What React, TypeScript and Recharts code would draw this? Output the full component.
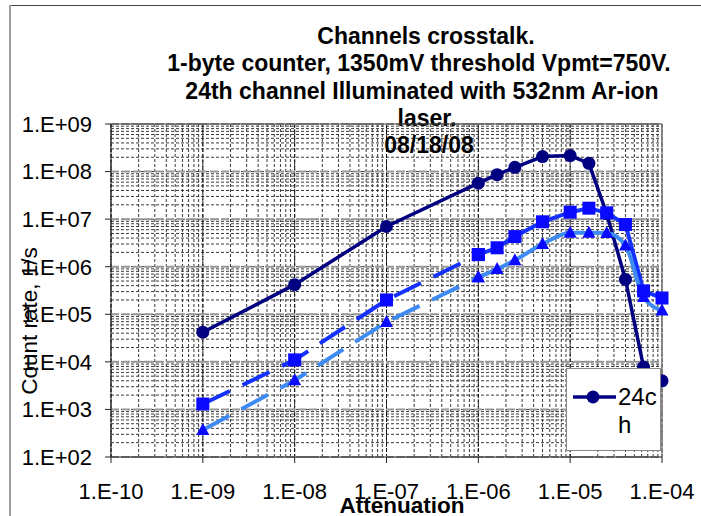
import { LineChart, Line, XAxis, YAxis, CartesianGrid, Legend, ReferenceLine, Customized } from 'recharts'

// attenuation steps of the ND filter stack
const attenuation = [1e-9, 1e-8, 1e-7, 1e-6, 1.6e-6, 2.5e-6, 5e-6, 1e-5, 1.6e-5, 2.5e-5, 4e-5, 6.3e-5, 1e-4]

// count rates, 1/s
const ch24 = [4.2e4, 4.2e5, 7e6, 5.7e7, 8.6e7, 1.23e8, 2.07e8, 2.17e8, 1.49e8, 1.3e7, 5.4e5, 7.8e3, 4e3]
const chSquares = [1.3e3, 1.1e4, 2e5, 1.8e6, 2.5e6, 4.3e6, 8.8e6, 1.4e7, 1.7e7, 1.36e7, 7.7e6, 3.1e5, 2.2e5]
const chTriangles = [3.7e2, 4.1e3, 6.9e4, 6e5, 8.9e5, 1.37e6, 3e6, 5.2e6, 5.2e6, 5.1e6, 2.8e6, 2.3e5, 1.2e5]

const xTicks = [1e-10, 1e-9, 1e-8, 1e-7, 1e-6, 1e-5, 1e-4]
const yTicks = [1e2, 1e3, 1e4, 1e5, 1e6, 1e7, 1e8, 1e9]

const titleLines = [
  'Channels crosstalk.',
  '1-byte counter, 1350mV threshold Vpmt=750V.',
  '24th channel Illuminated with 532nm Ar-ion',
  'laser.',
  '08/18/08',
]

// the low-attenuation points are drawn dashed, the rest solid
const SPLIT = 3

const data = attenuation.map((att, i) => ({
  att,
  ch24: ch24[i],
  sqLow: i <= SPLIT ? chSquares[i] : null,
  sqHigh: i >= SPLIT ? chSquares[i] : null,
  triLow: i <= SPLIT ? chTriangles[i] : null,
  triHigh: i >= SPLIT ? chTriangles[i] : null,
}))

// log minor grid: 2..9 inside every decade
const minorValues = (decades: number[]) => {
  const out: number[] = []
  for (let i = 0; i < decades.length - 1; i++) {
    for (let k = 1; k <= 9; k++) out.push(k * decades[i])
  }
  out.push(decades[decades.length - 1])
  return out
}
const minorX = minorValues(xTicks)
const minorY = minorValues(yTicks)

const fmtExp = (v: number) => {
  const e = Math.round(Math.log10(v))
  const s = e < 0 ? '-' : '+'
  return `1.E${s}${String(Math.abs(e)).padStart(2, '0')}`
}

const FONT = '"Liberation Sans", Arial, sans-serif'
const NAVY = '#000080'
const BLUE = '#0a0aff'
const BLUE_LINE = '#1432ff'
const LIGHT = '#3d8bf2'

const ok = (p: any) => p.cx != null && p.cy != null && Number.isFinite(p.cx) && Number.isFinite(p.cy) && p.value != null

const circleDot = (p: any) =>
  ok(p) ? <circle key={p.index} cx={p.cx} cy={p.cy} r={6.5} fill={NAVY} /> : <g key={p.index} />

const squareDot = (p: any) =>
  ok(p) ? <rect key={p.index} x={p.cx - 6.5} y={p.cy - 6.5} width={13} height={13} fill={BLUE} /> : <g key={p.index} />

const triangleDot = (p: any) =>
  ok(p) ? (
    <polygon
      key={p.index}
      points={`${p.cx},${p.cy - 7} ${p.cx + 6.5},${p.cy + 5} ${p.cx - 6.5},${p.cy + 5}`}
      fill={BLUE}
    />
  ) : (
    <g key={p.index} />
  )

const TitleBlock = () => {
  const centers = [426, 419, 422, 427, 429]
  return (
    <g>
      {titleLines.map((t, i) => (
        <text
          key={t}
          x={centers[i]}
          y={44 + i * 27.3}
          textAnchor="middle"
          fontFamily={FONT}
          fontWeight="bold"
          fontSize={23}
          fill="#000"
        >
          {t}
        </text>
      ))}
    </g>
  )
}

const LegendBox = (props: any) => {
  const item = (props.payload ?? [])[0]
  if (!item) return null
  return (
    <div
      style={{
        boxSizing: 'border-box',
        width: 95,
        height: 83,
        background: '#fff',
        border: '1px solid #888',
        position: 'relative',
        fontFamily: FONT,
      }}
    >
      <svg width={44} height={16} style={{ position: 'absolute', left: 6, top: 20 }}>
        <line x1={0} y1={8} x2={43} y2={8} stroke={item.color} strokeWidth={3.5} />
        <circle cx={20} cy={8} r={6.5} fill={item.color} />
      </svg>
      <div
        style={{
          position: 'absolute',
          left: 51,
          top: 14,
          width: 44,
          fontSize: 24,
          lineHeight: '28px',
          wordBreak: 'break-all',
          color: '#000',
        }}
      >
        {item.value}
      </div>
    </div>
  )
}

export default function App() {
  return (
    <div
      style={{
        position: 'absolute',
        left: 0,
        top: 0,
        width: 701,
        height: 516,
        background: '#fff',
        overflow: 'hidden',
      }}
    >
      {/* chart area frame */}
      <div style={{ position: 'absolute', left: 9, top: 5, right: 0, height: 1, background: '#444' }} />
      <div style={{ position: 'absolute', left: 9, top: 5, width: 2, bottom: 0, background: '#a0a0a0' }} />
      <LineChart width={701} height={516} data={data} margin={{ top: 124, right: 39, bottom: 0, left: 0 }}>
        <CartesianGrid horizontalValues={minorY} verticalValues={minorX} stroke="#3a3a3a" strokeDasharray="3 2" />
        <CartesianGrid horizontal={false} verticalValues={xTicks} stroke="#111" strokeDasharray="4 2" />
        <CartesianGrid vertical={false} horizontalValues={yTicks} stroke="#999" strokeWidth={2} strokeDasharray="8 3" />
        <ReferenceLine y={1e9} stroke="#444" strokeWidth={1} />
        <ReferenceLine x={1e-4} stroke="#888" strokeWidth={1.5} />
        <XAxis
          dataKey="att"
          type="number"
          scale="log"
          domain={[1e-10, 1e-4]}
          ticks={xTicks}
          interval={0}
          height={59}
          tickFormatter={fmtExp}
          tickSize={6}
          tickMargin={20}
          stroke="#222"
          tick={{ fontFamily: FONT, fontSize: 22, fill: '#000' }}
          label={() => (
            <text x={402} y={513} textAnchor="middle" fontFamily={FONT} fontWeight="bold" fontSize={22.5} fill="#000">
              Attenuation
            </text>
          )}
        />
        <YAxis
          type="number"
          scale="log"
          domain={[1e2, 1e9]}
          ticks={yTicks}
          interval={0}
          width={111}
          tickFormatter={fmtExp}
          tickSize={6}
          tickMargin={13}
          stroke="#222"
          tick={{ fontFamily: FONT, fontSize: 22, fill: '#000' }}
          label={() => (
            <text
              x={37}
              y={321}
              textAnchor="middle"
              transform="rotate(-90 37 321)"
              fontFamily={FONT}
              fontSize={22.5}
              fill="#000"
            >
              Count rate, 1/s
            </text>
          )}
        />
        <Customized component={TitleBlock} />
        <Line
          name="24ch"
          dataKey="ch24"
          type="linear"
          stroke={NAVY}
          strokeWidth={3.5}
          dot={circleDot}
          activeDot={false}
          isAnimationActive={false}
        />
        <Line
          dataKey="sqLow"
          type="linear"
          stroke={BLUE_LINE}
          strokeWidth={4}
          strokeDasharray="30 14"
          dot={squareDot}
          activeDot={false}
          legendType="none"
          isAnimationActive={false}
        />
        <Line
          dataKey="sqHigh"
          type="linear"
          stroke={BLUE_LINE}
          strokeWidth={4}
          dot={squareDot}
          activeDot={false}
          legendType="none"
          isAnimationActive={false}
        />
        <Line
          dataKey="triLow"
          type="linear"
          stroke={LIGHT}
          strokeWidth={4}
          strokeDasharray="30 14"
          dot={triangleDot}
          activeDot={false}
          legendType="none"
          isAnimationActive={false}
        />
        <Line
          dataKey="triHigh"
          type="monotone"
          stroke={LIGHT}
          strokeWidth={4}
          dot={triangleDot}
          activeDot={false}
          legendType="none"
          isAnimationActive={false}
        />
        <Legend
          layout="horizontal"
          verticalAlign="middle"
          align="center"
          wrapperStyle={{ left: 566, top: 368, width: 95, height: 83 }}
          content={LegendBox}
        />
      </LineChart>
    </div>
  )
}
